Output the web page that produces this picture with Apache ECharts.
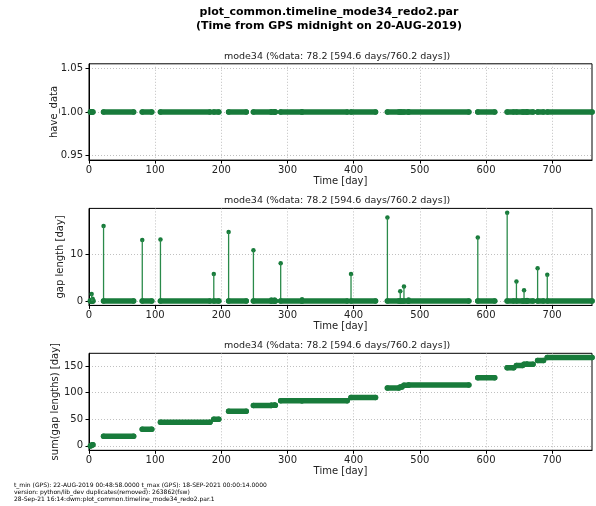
<!DOCTYPE html>
<html>
<head>
<meta charset="utf-8">
<script src="https://cdn.jsdelivr.net/npm/echarts@6/dist/echarts.min.js"></script>
<style>html,body{margin:0;padding:0;background:#fff}#c{width:596px;height:506px}</style>
</head>
<body>
<div id="c"></div>
<script>
// ---- data ----
const xTicks = [0, 100, 200, 300, 400, 500, 600, 700];
const yTicksHave = [0.95, 1.00, 1.05];
const yTicksGap = [0, 10];
const yTicksSum = [0, 50, 100, 150];

// contiguous data segments (day from GPS midnight 20-AUG-2019)
const segStart = [2.0, 4.0, 5.5, 22.0, 80.5, 108.0, 188.6, 211.0, 248.5, 275.6, 280.5, 289.7, 322.0, 396.0, 451.0, 470.4, 476.0, 483.0, 587.6, 632.0, 646.0, 657.5, 662.0, 678.0, 692.6];
const segEnd   = [2.5, 5.0, 6.0, 67.4, 94.8, 182.8, 196.1, 237.6, 275.3, 280.2, 281.6, 321.6, 390.2, 433.0, 468.3, 472.9, 482.7, 574.0, 613.1, 641.8, 655.2, 661.8, 671.0, 686.9, 760.2];

// gaps: time at which data resumes, and gap length [day]
const gapTimes   = [4.0, 5.5, 22.0, 80.5, 108.0, 188.6, 211.0, 248.5, 275.6, 280.5, 289.7, 322.0, 396.0, 451.0, 470.4, 476.0, 483.0, 587.6, 632.0, 646.0, 657.5, 662.0, 678.0, 692.6];
const gapLengths = [1.5, 0.5, 16.1, 13.1, 13.2, 5.8, 14.8, 10.9, 0.3, 0.3, 8.1, 0.4, 5.8, 17.9, 2.1, 3.1, 0.3, 13.6, 18.9, 4.2, 2.3, 0.2, 7.0, 5.6];

const mainTitle = ['plot_common.timeline_mode34_redo2.par', '(Time from GPS midnight on 20-AUG-2019)'];
const subTitle = 'mode34 (%data: 78.2 [594.6 days/760.2 days])';
const footer = [
  't_min (GPS): 22-AUG-2019 00:48:58.0000 t_max (GPS): 18-SEP-2021 00:00:14.0000',
  'version: python/lib_dev duplicates(removed): 263862(fsw)',
  '28-Sep-21 16:14:dwm:plot_common.timeline_mode34_redo2.par.1'
];

// ---- build ----
const GREEN = '#187b3b';
const FONT = 'DejaVu Sans';

function segLine(yOf) {
  const d = [];
  for (let i = 0; i < segStart.length; i++) {
    const y = yOf(i);
    d.push([segStart[i], y], [segEnd[i], y], [segEnd[i], '-']);
  }
  return d;
}
function segEnds(yOf) {
  const d = [];
  for (let i = 0; i < segStart.length; i++) {
    const y = yOf(i);
    d.push([segStart[i], y], [segEnd[i], y]);
  }
  return d;
}
function cumAt(t) {
  let s = 0;
  for (let j = 0; j < gapTimes.length; j++) if (gapTimes[j] <= t + 1e-9) s += gapLengths[j];
  return s;
}
const stems = [];
for (let j = 0; j < gapTimes.length; j++) {
  stems.push([gapTimes[j], 0], [gapTimes[j], gapLengths[j]], [gapTimes[j], '-']);
}
const tops = gapTimes.map((t, j) => [t, gapLengths[j]]);
const yHave = () => 1;
const yZero = () => 0;
const yCum = i => cumAt(segStart[i]);

const grids = [
  {left: 89, right: 4, top: 63.8, height: 96.3},
  {left: 89, right: 4, top: 208.4, height: 97},
  {left: 89, right: 4, top: 353.3, height: 97}
];
const gridStyle = grids.map(g => Object.assign({show: true, borderColor: '#000', borderWidth: 1, backgroundColor: 'transparent'}, g));

const splitLine = {show: true, lineStyle: {color: '#b0b0b0', type: [1, 2], width: 0.8}};
const axisLine = {show: true, onZero: false, lineStyle: {color: '#000', width: 1}};
const labelStyle = {fontFamily: FONT, fontSize: 10, color: '#222'};

const xAxes = [0, 1, 2].map(i => ({
  type: 'value', gridIndex: i, min: 0, max: 760.2,
  axisLine: axisLine,
  axisTick: {show: true, inside: false, length: 3.5, customValues: xTicks, lineStyle: {color: '#000'}},
  axisLabel: Object.assign({margin: 5, customValues: xTicks}, labelStyle),
  splitLine: splitLine,
  name: 'Time [day]', nameLocation: 'middle', nameGap: 16, nameMoveOverlap: false,
  nameTextStyle: {fontFamily: FONT, fontSize: 10, color: '#222'}
}));

function yAx(i, min, max, ticks, name, gap, fmt) {
  return {
    type: 'value', gridIndex: i, min: min, max: max,
    axisLine: axisLine,
    axisTick: {show: true, inside: false, length: 3.5, customValues: ticks, lineStyle: {color: '#000'}},
    axisLabel: Object.assign({margin: 6, customValues: ticks, formatter: fmt}, labelStyle),
    splitLine: splitLine,
    name: name, nameLocation: 'middle', nameGap: gap, nameRotate: 90, nameMoveOverlap: false,
    nameTextStyle: {fontFamily: FONT, fontSize: 10, color: '#222'}
  };
}
const yAxes = [
  yAx(0, 0.945, 1.055, yTicksHave, 'have_data', 30, v => v.toFixed(2)),
  yAx(1, -0.945, 19.85, yTicksGap, 'gap length [day]', 23.5, v => String(v)),
  yAx(2, -8.28, 173.9, yTicksSum, 'sum(gap lengths) [day]', 28.5, v => String(v))
];

const thick = {color: GREEN, width: 5.5, cap: 'round'};
function lineS(ax, data, style) {
  return {type: 'line', xAxisIndex: ax, yAxisIndex: ax, data: data, showSymbol: false, symbol: 'none', lineStyle: style, connectNulls: false, silent: true};
}
function dotS(ax, data, size) {
  return {type: 'scatter', xAxisIndex: ax, yAxisIndex: ax, data: data, symbolSize: size, itemStyle: {color: GREEN, opacity: 1}, silent: true};
}
const series = [
  lineS(0, segLine(yHave), thick),
  dotS(0, segEnds(yHave), 5.5),
  lineS(1, stems, {color: '#2a8a4a', width: 1.3}),
  lineS(1, segLine(yZero), thick),
  dotS(1, segEnds(yZero), 5.5),
  dotS(1, tops, 4.5),
  lineS(2, segLine(yCum), thick),
  dotS(2, segEnds(yCum), 5.5)
];

const graphic = [
  {type: 'text', x: 329, y: 12.5, style: {text: mainTitle[0], font: 'bold 11px "DejaVu Sans"', fill: '#000', align: 'center', verticalAlign: 'middle'}},
  {type: 'text', x: 329, y: 26, style: {text: mainTitle[1], font: 'bold 11px "DejaVu Sans"', fill: '#000', align: 'center', verticalAlign: 'middle'}},
  {type: 'text', x: 337, y: 57, style: {text: subTitle, font: '9.5px "DejaVu Sans"', fill: '#222', align: 'center', verticalAlign: 'middle'}},
  {type: 'text', x: 337, y: 201, style: {text: subTitle, font: '9.5px "DejaVu Sans"', fill: '#222', align: 'center', verticalAlign: 'middle'}},
  {type: 'text', x: 337, y: 346, style: {text: subTitle, font: '9.5px "DejaVu Sans"', fill: '#222', align: 'center', verticalAlign: 'middle'}},
  {type: 'text', x: 14, y: 485, style: {text: footer[0], font: '6px "DejaVu Sans"', fill: '#000', align: 'left', verticalAlign: 'middle'}},
  {type: 'text', x: 14, y: 492, style: {text: footer[1], font: '6px "DejaVu Sans"', fill: '#000', align: 'left', verticalAlign: 'middle'}},
  {type: 'text', x: 14, y: 499, style: {text: footer[2], font: '6px "DejaVu Sans"', fill: '#000', align: 'left', verticalAlign: 'middle'}}
];

const chart = echarts.init(document.getElementById('c'), null, {renderer: 'canvas'});
chart.setOption({
  animation: false,
  backgroundColor: '#fff',
  grid: gridStyle,
  xAxis: xAxes,
  yAxis: yAxes,
  series: series,
  graphic: graphic
});
</script>
</body>
</html>
